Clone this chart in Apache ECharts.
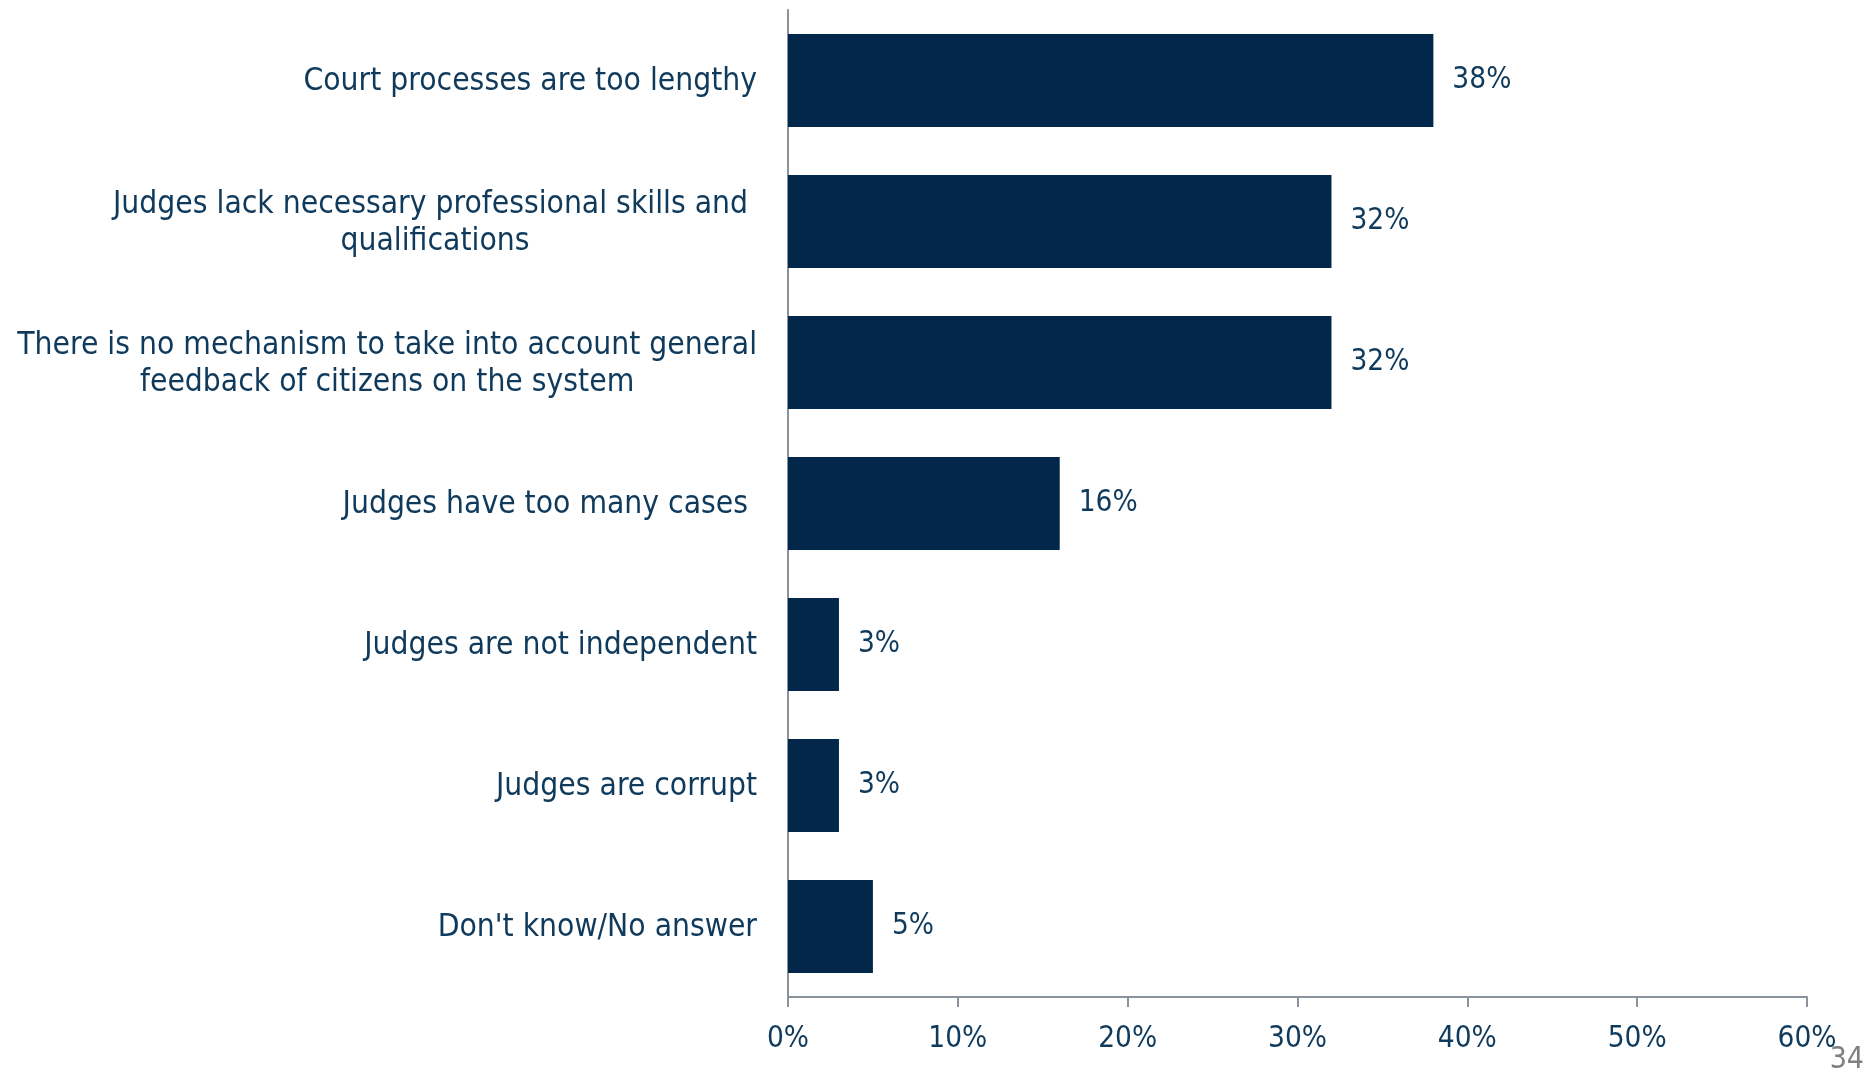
<!DOCTYPE html>
<html>
<head>
<meta charset="utf-8">
<script src="https://cdn.jsdelivr.net/npm/echarts@6/dist/echarts.min.js"></script>
<style>
html,body{margin:0;padding:0;background:#fff;}
#chart{width:1870px;height:1075px;}
</style>
</head>
<body>
<div id="chart"></div>
<script>
const categories = [
  "Court processes are too lengthy",
  "Judges lack necessary professional skills and \nqualifications",
  "There is no mechanism to take into account general\nfeedback of citizens on the system",
  "Judges have too many cases ",
  "Judges are not independent",
  "Judges are corrupt",
  "Don't know/No answer"
];
const values = [38, 32, 32, 16, 3, 3, 5];
const xTicks = [0, 10, 20, 30, 40, 50, 60];
const pageNumber = "34";

const FONT = "'Liberation Sans Narrow','DejaVu Sans Condensed',sans-serif";
const TEXT = "#0f3a5c";
const BAR = "#02274a";
const AXIS = "#8a929c";

const chart = echarts.init(document.getElementById('chart'));
chart.setOption({
  animation: false,
  backgroundColor: '#ffffff',
  grid: { left: 788, right: 63, top: 10, bottom: 78, containLabel: false },
  xAxis: {
    type: 'value',
    min: xTicks[0], max: xTicks[xTicks.length - 1], interval: 10,
    axisLine: { show: true, lineStyle: { color: AXIS, width: 2 } },
    axisTick: { show: true, length: 10, lineStyle: { color: AXIS, width: 2 } },
    splitLine: { show: false },
    axisLabel: {
      margin: 27,
      formatter: v => v + '%',
      color: TEXT, fontFamily: FONT, fontSize: 29.5
    }
  },
  yAxis: {
    type: 'category',
    inverse: true,
    data: categories,
    axisLine: { show: true, lineStyle: { color: AXIS, width: 2 } },
    axisTick: { show: false },
    axisLabel: {
      margin: 31,
      color: TEXT, fontFamily: FONT, fontSize: 31.5, lineHeight: 37,
      formatter: v => v.split('\n').map(s => '{c|' + s + '}').join('\n'),
      rich: { c: { align: 'center', color: TEXT, fontFamily: FONT, fontSize: 31.5, lineHeight: 37, padding: [3, 0, 0, 0] } }
    }
  },
  series: [{
    type: 'bar',
    data: values,
    barCategoryGap: '34%',
    itemStyle: { color: BAR },
    label: {
      show: true, position: 'right', distance: 19,
      formatter: p => p.value + '%',
      color: TEXT, fontFamily: FONT, fontSize: 29.5
    }
  }],
  graphic: [{
    type: 'text', right: 6, bottom: 0,
    style: { text: pageNumber, fill: '#808080', font: "30px 'Liberation Sans Narrow','DejaVu Sans Condensed',sans-serif" }
  }]
});
</script>
</body>
</html>
